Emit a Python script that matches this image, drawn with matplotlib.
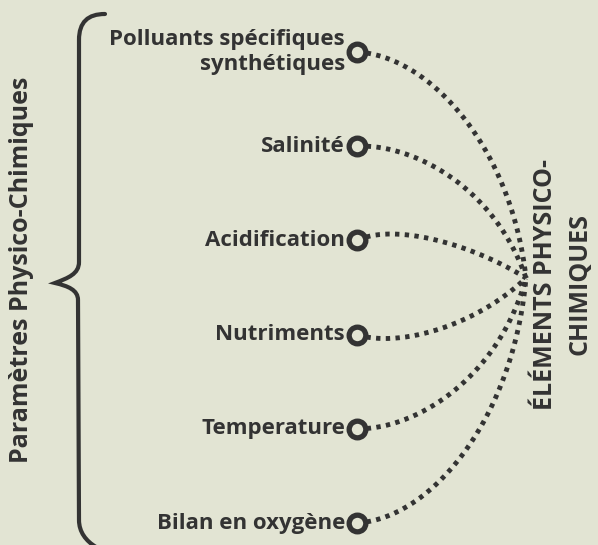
import numpy as np
import matplotlib.pyplot as plt
from matplotlib.path import Path
from matplotlib.patches import PathPatch

# Données du schéma
categories = [
    "Polluants spécifiques\nsynthétiques",
    "Salinité",
    "Acidification",
    "Nutriments",
    "Temperature",
    "Bilan en oxygène",
]
titre_gauche = "Paramètres Physico-Chimiques"
titre_droite = "ÉLÉMENTS PHYSICO-\nCHIMIQUES"

fond = "#e2e4d3"
encre = "#333333"
plt.rcParams["font.family"] = ["Open Sans", "DejaVu Sans"]

W, H = 598, 545
fig = plt.figure(figsize=(W / 100, H / 100), dpi=100, facecolor=fond)
ax = fig.add_axes([0, 0, 1, 1])
ax.set_xlim(0, W)
ax.set_ylim(H, 0)
ax.axis("off")

# mise en page (pixels)
x_noeud = 357
y_haut, y_bas = 52, 523
n = len(categories)
ys = np.linspace(y_haut, y_bas, n)
hub = np.array([526.0, 278.0])


def bezier(p0, p1, p2, p3, npts=200):
    t = np.linspace(0, 1, npts)[:, None]
    return ((1 - t) ** 3) * p0 + 3 * ((1 - t) ** 2) * t * p1 + 3 * (1 - t) * t ** 2 * p2 + t ** 3 * p3


for label, y0 in zip(categories, ys):
    p0 = np.array([x_noeud, y0])
    dy = hub[1] - y0
    s = np.sign(dy)
    ady = abs(dy)
    # départ : petite bosse vers l'extérieur pour les liens proches du centre
    b = -30 * np.exp(-ady / 80) + 0.025 * ady
    p1 = p0 + np.array([30 + 0.19 * ady, s * b])
    # arrivée : angle d'autant plus vertical que le noeud est loin
    theta = np.pi / 2 * (1 - np.exp(-ady / 85))
    L = 50 + 0.36 * ady
    p2 = hub - L * np.array([np.cos(theta), s * np.sin(theta)])
    pts = bezier(p0, p1, p2, hub)
    ax.plot(pts[:, 0], pts[:, 1], color=encre, lw=3.5, linestyle=(0, (0.9, 1.1)),
            dash_capstyle="butt", zorder=2)
    ax.plot([x_noeud], [y0], marker="o", ms=12, mew=3.8, mec=encre, mfc=fond, zorder=3)
    ax.text(x_noeud - 12, y0, label, ha="right", va="center", multialignment="right",
            fontsize=16, fontweight="bold", color=encre, linespacing=1.3)

# accolade gauche
verts = [
    (105, 14), (88, 14), (79, 22), (79, 40),
    (79, 262),
    (79, 274), (68, 278), (55, 283),
    (68, 286), (78, 290), (78, 300),
    (79, 520),
    (79, 532), (86, 541), (96, 547),
]
codes = [Path.MOVETO, Path.CURVE4, Path.CURVE4, Path.CURVE4,
         Path.LINETO,
         Path.CURVE4, Path.CURVE4, Path.CURVE4,
         Path.CURVE4, Path.CURVE4, Path.CURVE4,
         Path.LINETO,
         Path.CURVE4, Path.CURVE4, Path.CURVE4]
ax.add_patch(PathPatch(Path(verts, codes), fill=False, ec=encre, lw=3, capstyle="round"))

ax.text(22, 270, titre_gauche, rotation=90, ha="center", va="center",
        fontsize=18, fontweight="bold", color=encre)
ax.text(563, 284, titre_droite, rotation=90, ha="center", va="center",
        fontsize=18, fontweight="bold", color=encre, linespacing=1.5)

fig.savefig("out.png", dpi=100, facecolor=fond)
